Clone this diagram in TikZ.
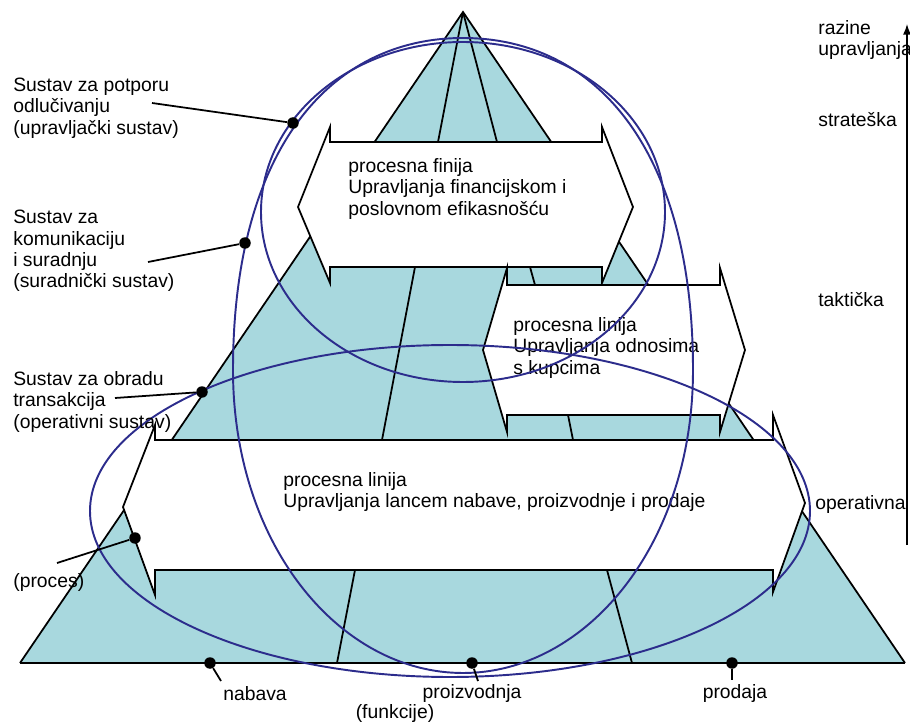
\documentclass[tikz,border=0pt]{standalone}
\usepackage{fontspec}
\setmainfont{Liberation Sans}
\usetikzlibrary{arrows.meta}
\definecolor{pyrteal}{RGB}{168,216,222}
\definecolor{ringblue}{RGB}{44,44,140}

\begin{document}
\begin{tikzpicture}[x=0.02cm,y=-0.02cm,
	lbl/.style={inner sep=0pt,align=left,font=\fontsize{11}{12.2}\selectfont},
	band/.style={fill=white,draw=black,line width=1pt},
	divider/.style={draw=black,line width=1pt},
	ring/.style={draw=ringblue,line width=1.1pt},
	dot/.style={circle,fill=black,inner sep=0pt,minimum size=0.23cm},
	leader/.style={draw=black,line width=1pt}]
		\useasboundingbox (0,0) rectangle (910,726);
		% piramida
		\fill[pyrteal] (463,12) -- (20,663) -- (905,663) -- cycle;
		\draw[divider] (463,12) -- (438,142);
		\draw[divider] (463,12) -- (497,142);
		\draw[divider] (415,267) -- (382,440);
		\draw[divider] (530,267) -- (535,285);
		\draw[divider] (568,415) -- (573,440);
		\draw[divider] (355,570) -- (337,663);
		\draw[divider] (607,570) -- (632,663);
		\draw[divider] (20,663) -- (463,12) -- (905,663);
		\draw[black,line width=1.4pt] (20,663) -- (905,663);
		% procesne linije
		\draw[band] (330,142) -- (602,142) -- (602,127) -- (633,207) -- (602,283)
		-- (602,267) -- (330,267) -- (330,283) -- (298,207) -- (330,127) -- cycle;
		\draw[band] (507,285) -- (720,285) -- (720,268) -- (745,350) -- (720,432)
		-- (720,415) -- (507,415) -- (507,432) -- (483,350) -- (507,268) -- cycle;
		\draw[band] (155,440) -- (773,440) -- (773,415) -- (805,503) -- (773,592)
		-- (773,570) -- (155,570) -- (155,595) -- (123,507) -- (155,425) -- cycle;
		\node[lbl,anchor=west] (pFin) at (348,189) {procesna finija\\Upravljanja financijskom i\\poslovnom efikasnošću};
		\node[lbl,anchor=west] (pKup) at (513,348) {procesna linija\\Upravljanja odnosima\\s kupcima};
		\node[lbl,anchor=west] (pLan) at (283,492) {procesna linija\\Upravljanja lancem nabave, proizvodnje i prodaje};
		% sustavi
		\draw[ring] (463,212) ellipse [x radius=202, y radius=170];
		\draw[ring] (463,38) .. controls (330,38) and (233,150) .. (233,370)
		.. controls (233,545) and (340,673) .. (463,673)
		.. controls (586,673) and (693,545) .. (693,370)
		.. controls (693,150) and (596,38) .. (463,38) -- cycle;
		\draw[ring] (450,511) ellipse [x radius=360, y radius=166];
		% oznake lijevo
		\node[lbl,anchor=west] (lPotpora) at (13,108) {Sustav za potporu\\odlučivanju\\(upravljački sustav)};
		\node[lbl,anchor=west] (lSuradnja) at (13,251) {Sustav za\\komunikaciju\\i suradnju\\(suradnički sustav)};
		\node[lbl,anchor=west] (lObrada) at (13,402) {Sustav za obradu\\transakcija\\(operativni sustav)};
		\node[lbl,anchor=west] (lProces) at (13,583) {(proces)};
		\node[dot] (dPotpora) at (293,123) {};
		\node[dot] (dSuradnja) at (245,243) {};
		\node[dot] (dObrada) at (202,392) {};
		\node[dot] (dProces) at (135,538) {};
		\coordinate (aPotpora) at (152,103);
		\coordinate (aSuradnja) at (148,262);
		\coordinate (aObrada) at (115,398);
		\coordinate (aProces) at (57,563);
		\draw[leader] (aPotpora) -- (dPotpora);
		\draw[leader] (aSuradnja) -- (dSuradnja);
		\draw[leader] (aObrada) -- (dObrada);
		\draw[leader] (aProces) -- (dProces);
		% funkcije
		\node[dot] (dNabava) at (210,663) {};
		\node[dot] (dProizv) at (472,663) {};
		\node[dot] (dProdaja) at (732,663) {};
		\node[lbl] (lNabava) at (255,694) {nabava};
		\node[lbl] (lProizv) at (472,694) {proizvodnja};
		\node[lbl] (lFunkcije) at (395,714) {(funkcije)};
		\node[lbl] (lProdaja) at (735,694) {prodaja};
		\coordinate (aNabava) at (221,681);
		\coordinate (aProizv) at (478,681);
		\coordinate (aProdaja) at (732,680);
		\draw[leader] (dNabava) -- (aNabava);
		\draw[leader] (dProizv) -- (aProizv);
		\draw[leader] (dProdaja) -- (aProdaja);
		% razine upravljanja
		\node[lbl,anchor=west] (lRazine) at (818,40) {razine\\upravljanja};
		\node[lbl,anchor=west] (lStrat) at (818,120) {strateška};
		\node[lbl,anchor=west] (lTakt) at (818,300) {taktička};
		\node[lbl,anchor=west] (lOper) at (815,505) {operativna};
		\coordinate (axBot) at (907,545);
		\coordinate (axTop) at (907,24);
		\draw[-{Latex[length=6pt,width=4.5pt]},line width=0.8pt] (axBot) -- (axTop);
	\end{tikzpicture}
\end{document}
